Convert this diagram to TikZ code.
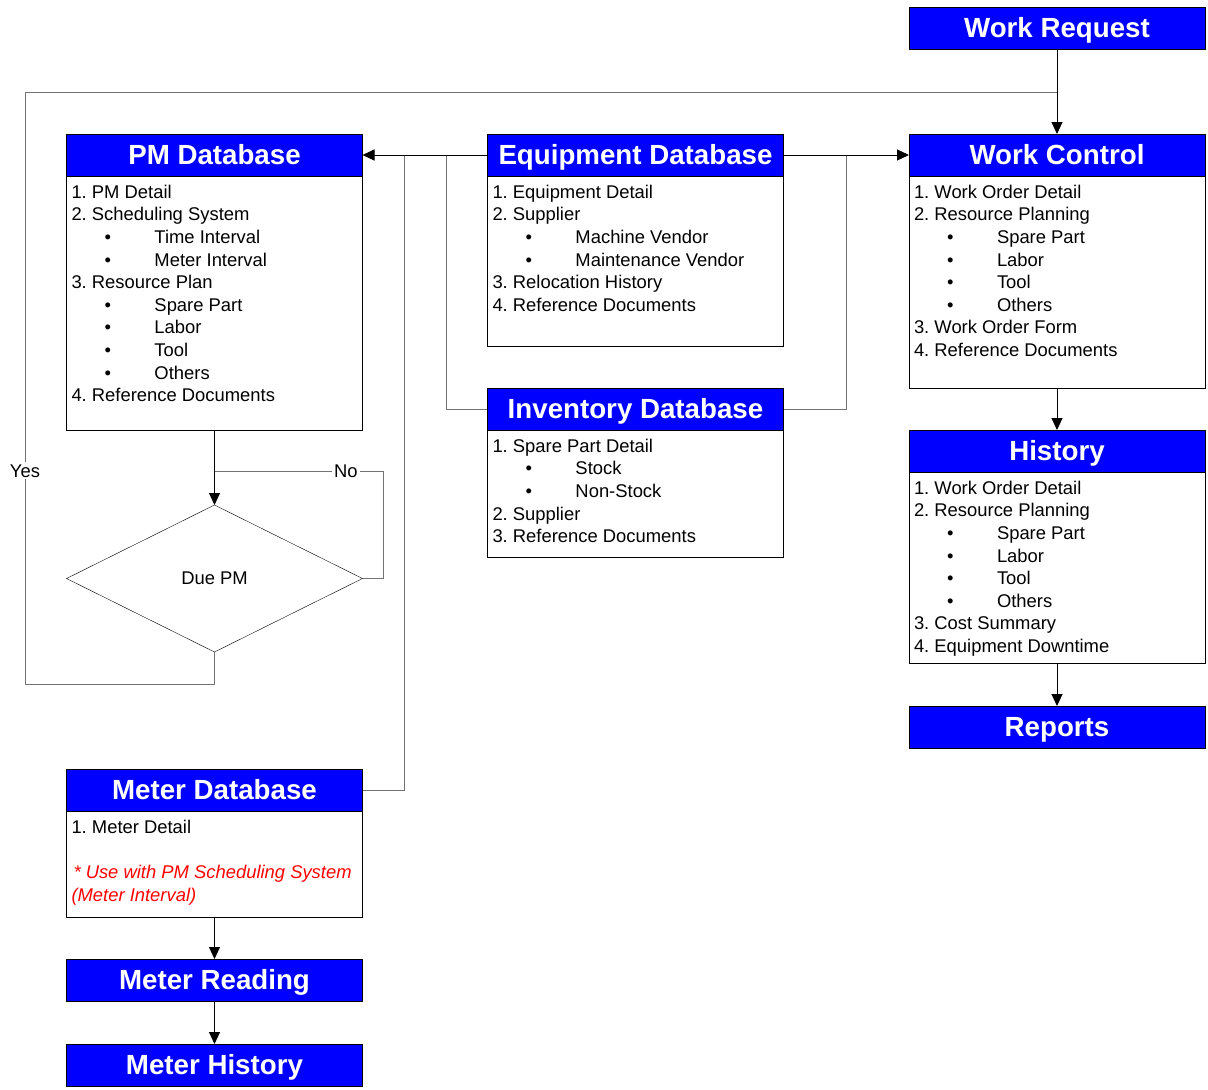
\documentclass[tikz,border=0pt]{standalone}
\usepackage{fontspec}
\setmainfont{Liberation Sans}
\usetikzlibrary{shapes.geometric,arrows.meta}
\definecolor{hdrblue}{RGB}{0,0,255}
\definecolor{notered}{RGB}{255,0,0}
\frenchspacing
\newcommand{\bul}[1]{\hspace*{33pt}\makebox[50pt][l]{\textbullet}#1}
\newcommand{\listtext}[2]{\parbox[c][#1][t]{286pt}{\rule{0pt}{22.2pt}#2}}

\begin{document}
\begin{tikzpicture}[x=1pt, y=-1pt,
    header/.style ={rectangle, draw=black, fill=hdrblue, text=white,
      minimum width=296pt, minimum height=42pt, inner sep=0pt, outer sep=0pt,
      font=\bfseries\fontsize{27.7}{33}\selectfont, text height=18pt, text depth=0pt},
    listbox/.style ={rectangle, draw=black, fill=white, anchor=north west,
      inner xsep=5pt, inner ysep=0pt, outer sep=0pt,
      font=\fontsize{18.4}{22.6}\selectfont},
    decision/.style={diamond, draw=black, fill=white, inner sep=0pt, outer sep=0pt,
      minimum width=296pt, minimum height=147pt, font=\fontsize{18.4}{22.6}\selectfont},
    lbl/.style ={fill=white, inner sep=2pt, font=\fontsize{18.4}{22.6}\selectfont},
    line/.style ={draw=black!55, line width=1pt},
    arrow/.style ={draw=black, line width=1pt, -{Triangle[length=12pt,width=11pt]}}]

    \useasboundingbox (0,0) rectangle (1208,1090);

    % junctions of the connectors
    \coordinate (reqSplit) at (1057,92);
    \coordinate (yesLeft) at (25,92);
    \coordinate (yesBottom) at (25,684);
    \coordinate (noJoin) at (214.5,471);
    \coordinate (meterBranch) at (404,155);
    \coordinate (invBranchL) at (446,155);
    \coordinate (invBranchR) at (846,155);

    % connectors first, so the boxes sit on top
    \path [line] (reqSplit) -- (yesLeft) -- node [lbl, pos=0.64] {Yes} (yesBottom) -| (214.5,652);
    \path [line] (meterBranch) |- (362,790);
    \path [line] (invBranchL) |- (488,409);
    \path [line] (invBranchR) |- (783,409);
    \path [line] (362,578.5) -- (383,578.5) |- node [lbl, pos=0.61] {No} (noJoin);

    % right column
    \node [header] (workReq) at (1057,28) {Work Request};
    \node [header] (workCtl) at (1057,155) {Work Control};
    \node [listbox] (workCtlBody) at (workCtl.south west) {\listtext{212pt}{%
      1. Work Order Detail\\
      2. Resource Planning\\
      \bul{Spare Part}\\
      \bul{Labor}\\
      \bul{Tool}\\
      \bul{Others}\\
      3. Work Order Form\\
      4. Reference Documents}};
    \node [header] (history) at (1057,451) {History};
    \node [listbox] (historyBody) at (history.south west) {\listtext{191pt}{%
      1. Work Order Detail\\
      2. Resource Planning\\
      \bul{Spare Part}\\
      \bul{Labor}\\
      \bul{Tool}\\
      \bul{Others}\\
      3. Cost Summary\\
      4. Equipment Downtime}};
    \node [header] (reports) at (1057,727) {Reports};

    % middle column
    \node [header] (equipDb) at (635.5,155) {Equipment Database};
    \node [listbox] (equipDbBody) at (equipDb.south west) {\listtext{170pt}{%
      1. Equipment Detail\\
      2. Supplier\\
      \bul{Machine Vendor}\\
      \bul{Maintenance Vendor}\\
      3. Relocation History\\
      4. Reference Documents}};
    \node [header] (invDb) at (635.5,409) {Inventory Database};
    \node [listbox] (invDbBody) at (invDb.south west) {\listtext{127pt}{%
      1. Spare Part Detail\\
      \bul{Stock}\\
      \bul{Non-Stock}\\
      2. Supplier\\
      3. Reference Documents}};

    % left column
    \node [header] (pmDb) at (214.5,155) {PM Database};
    \node [listbox] (pmDbBody) at (pmDb.south west) {\listtext{254pt}{%
      1. PM Detail\\
      2. Scheduling System\\
      \bul{Time Interval}\\
      \bul{Meter Interval}\\
      3. Resource Plan\\
      \bul{Spare Part}\\
      \bul{Labor}\\
      \bul{Tool}\\
      \bul{Others}\\
      4. Reference Documents}};
    \node [decision] (duePm) at (214.5,578.5) {Due PM};
    \node [header] (meterDb) at (214.5,790) {Meter Database};
    \node [listbox] (meterDbBody) at (meterDb.south west) {\listtext{106pt}{%
      1. Meter Detail\\
      \mbox{}\\
      {\color{notered}\itshape\hspace*{2pt}* Use with PM Scheduling System\\
      (Meter Interval)}}};
    \node [header] (meterRd) at (214.5,980) {Meter Reading};
    \node [header] (meterHist) at (214.5,1065) {Meter History};

    % arrows
    \path [arrow] (workReq.south) -- (workCtl.north);
    \path [arrow] (equipDb.west) -- (pmDb.east);
    \path [arrow] (equipDb.east) -- (workCtl.west);
    \path [arrow] (workCtlBody.south) -- (history.north);
    \path [arrow] (historyBody.south) -- (reports.north);
    \path [arrow] (pmDbBody.south) -- (duePm.north);
    \path [arrow] (meterDbBody.south) -- (meterRd.north);
    \path [arrow] (meterRd.south) -- (meterHist.north);

\end{tikzpicture}
\end{document}
